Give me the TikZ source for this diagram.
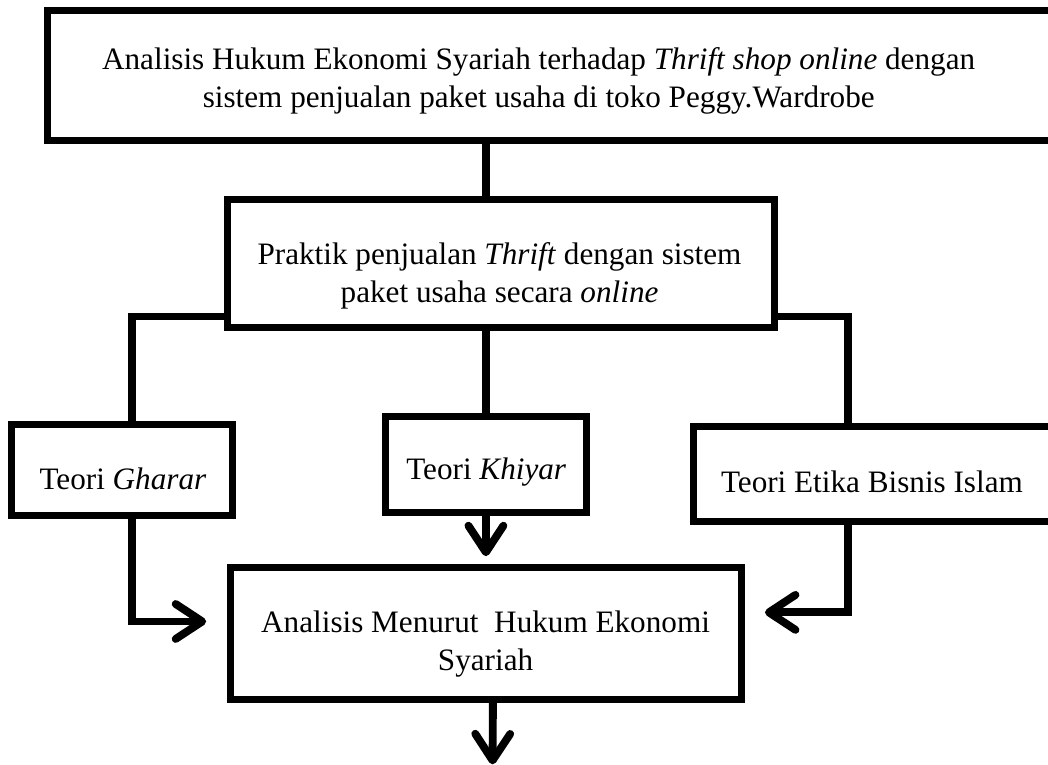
\documentclass[tikz,border=0pt]{standalone}
\usepackage{fontspec}
\setmainfont{Liberation Serif}
\usetikzlibrary{
    arrows.meta,
    positioning,
    calc
}
\tikzset{
    % Box frame style
    frame/.style={
        rectangle,
        draw=black,
        line width=2.8pt,
        inner sep=0pt
    },
    % Box text style
    box text/.style={
        align=center,
        font=\fontsize{12.7}{15.6}\selectfont,
        text=black,
        inner sep=0pt
    },
    % Connector styles
    link/.style={
        line width=3.2pt,
        draw=black
    },
    flow/.style={
        link,
        -{Straight Barb[length=3.8mm, width=5mm, round]}
    }
}

\begin{document}
\begin{tikzpicture}
        \useasboundingbox (0,0) rectangle (15,-10.94);

        % Title
        \node[frame, minimum width=14.47cm, minimum height=1.85cm] (title) at (7.92,-1.08) {};
        \node[box text] (titletext) at (7.71,-1.16) {Analisis Hukum Ekonomi Syariah terhadap \textit{Thrift shop online} dengan\\sistem penjualan paket usaha di toko Peggy.Wardrobe};

        % Practice
        \node[frame, minimum width=7.82cm, minimum height=1.83cm] (praktik) at (7.17,-3.775) {};
        \node[box text] (praktiktext) at (7.15,-3.95) {Praktik penjualan \textit{Thrift} dengan sistem\\paket usaha secara \textit{online}};

        % Theories
        \node[frame, minimum width=3.16cm, minimum height=1.30cm] (gharar) at (1.75,-6.73) {};
        \node[box text] (ghrartext) at (1.76,-6.86) {Teori \textit{Gharar}};
        \node[frame, minimum width=2.87cm, minimum height=1.38cm] (khiyar) at (6.955,-6.65) {};
        \node[box text] (khiyartext) at (6.96,-6.75) {Teori \textit{Khiyar}};
        \node[frame, minimum width=5.24cm, minimum height=1.35cm] (etika) at (12.54,-6.785) {};
        \node[box text] (etikatext) at (12.48,-6.89) {Teori Etika Bisnis Islam};

        % Analysis
        \node[frame, minimum width=7.31cm, minimum height=1.89cm] (analisis) at (6.955,-9.065) {};
        \node[box text] (analisistext) at (6.95,-9.22) {Analisis Menurut\ \ Hukum Ekonomi\\Syariah};
        \coordinate (end) at (7.05,-10.94);

        % Connections
        \draw[link] ([xshift=-0.21cm]praktik.north) -- ([xshift=-0.21cm]praktik.north |- title.south);
        \draw[link] ([yshift=0.21cm]praktik.south west) -| ([xshift=0.14cm]gharar.north);
        \draw[link] ([yshift=0.21cm]praktik.south east) -| ([xshift=-0.4cm]etika.north);
        \draw[link] (khiyar.north |- praktik.south) -- (khiyar.north);
        \draw[flow] (khiyar.south) -- ([yshift=0.11cm]khiyar.south |- analisis.north);
        \draw[flow] ([xshift=0.14cm]gharar.south) |- ([xshift=-0.3cm, yshift=0.17cm]analisis.west);
        \draw[flow] ([xshift=-0.4cm]etika.south) |- ([xshift=0.29cm, yshift=0.3cm]analisis.east);
        \draw[flow] ([xshift=0.1cm]analisis.south) -- (end);

    \end{tikzpicture}
\end{document}
